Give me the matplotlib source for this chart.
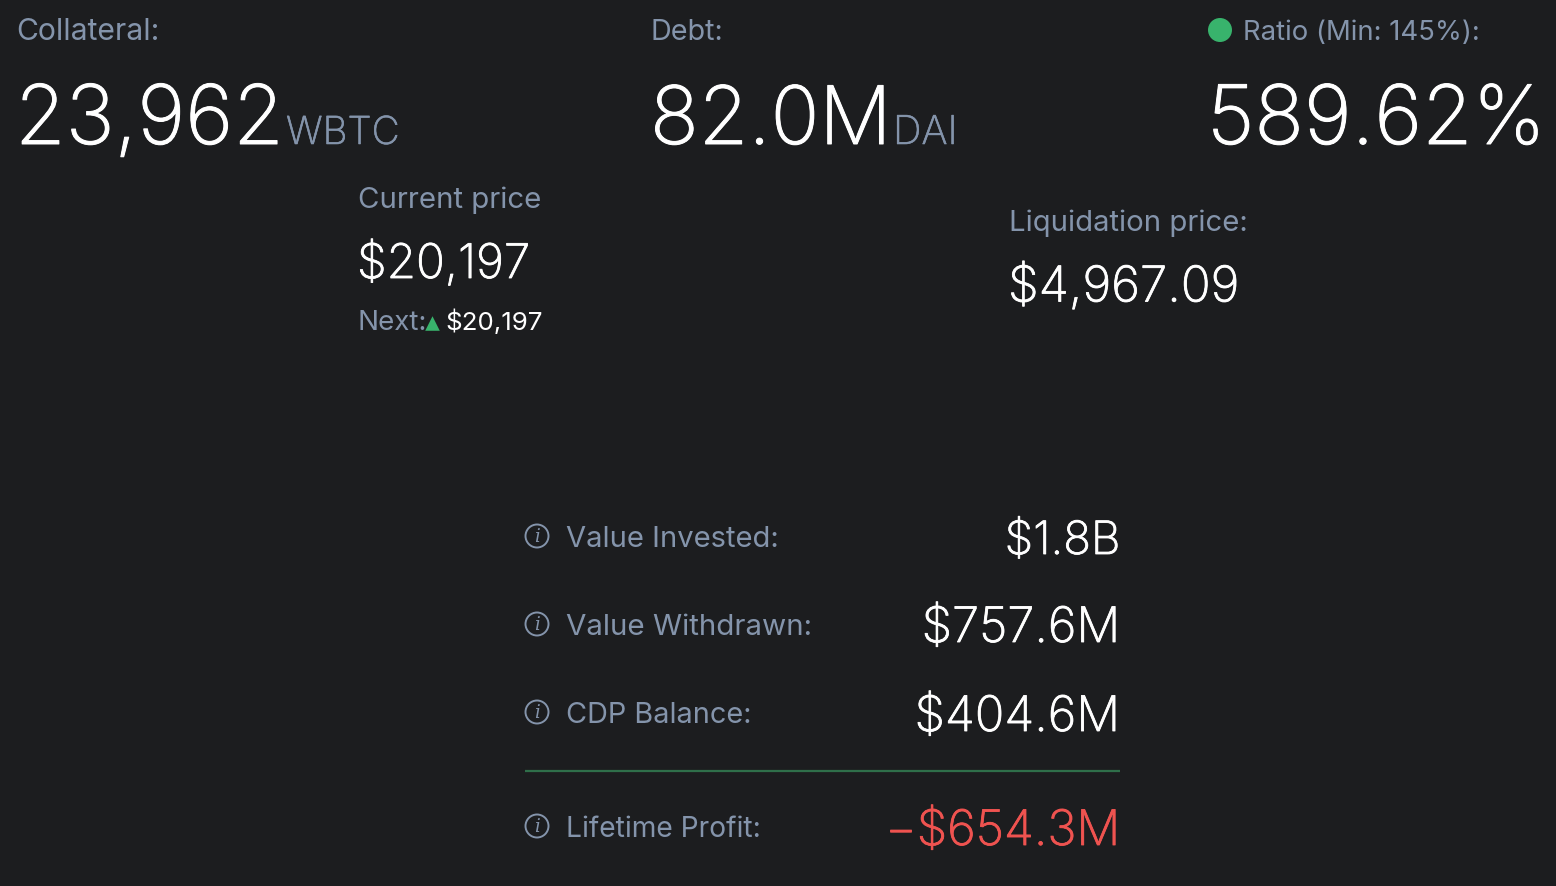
"""Vault summary panel: collateral, debt, ratio, prices and profit rows."""

import matplotlib
matplotlib.use("Agg")
import matplotlib.pyplot as plt
import matplotlib.patheffects as pe
from matplotlib.patches import Circle

BG = "#1c1d1f"
MUTED = "#8494ab"
WHITE = "#ffffff"
GREEN = "#38b36c"
RED = "#ef5350"
FONT = "Inter"

# Header block
header_labels = ["Collateral:", "Debt:", "Ratio (Min: 145%):"]
header_values = ["23,962", "82.0M", "589.62%"]
header_units = ["WBTC", "DAI", ""]

# Price block
price_labels = ["Current price", "Liquidation price:"]
price_values = ["$20,197", "$4,967.09"]
next_label = "Next:"
next_value = "$20,197"

# Summary rows
row_labels = ["Value Invested:", "Value Withdrawn:", "CDP Balance:", "Lifetime Profit:"]
row_values = ["$1.8B", "$757.6M", "$404.6M", "\u2212$654.3M"]
row_colors = [WHITE, WHITE, WHITE, RED]

fig = plt.figure(figsize=(15.56, 8.87), dpi=100, facecolor=BG)
ax = fig.add_axes([0, 0, 1, 1])
ax.set_xlim(0, 1556)
ax.set_ylim(887, 0)
ax.axis("off")


def put(x, y, s, size, color, ha="left", weight="normal", thicken=0):
    t = ax.text(x, y, s, fontsize=size, color=color, ha=ha, va="baseline",
                family=[FONT, "DejaVu Sans"], fontweight=weight)
    # light face comes out thinner than the reference, so fatten it a bit
    if thicken:
        t.set_path_effects([pe.withStroke(linewidth=thicken, foreground=color)])
    return t


# Header
header_x = [16, 651, 1243]
header_sizes = [21.7, 20.7, 19.8]
value_x = [15, 650, 1207]
value_sizes = [59.2, 58, 59]
unit_x = [286, 893, 0]
unit_sizes = [27.8, 28.6, 28]
for i in range(3):
    put(header_x[i], 39.5, header_labels[i], header_sizes[i], MUTED)
    put(value_x[i], 145, header_values[i], value_sizes[i], WHITE, weight="light", thicken=0.7)
    if header_units[i]:
        put(unit_x[i], 145, header_units[i], unit_sizes[i], MUTED, weight="light", thicken=0.4)
ax.add_patch(Circle((1220, 31), 12, color=GREEN, lw=0))

# Prices
put(358, 208, price_labels[0], 21.2, MUTED)
put(357, 279, price_values[0], 34.3, WHITE, weight="light", thicken=0.6)
put(358, 330, next_label, 20, MUTED)
ax.scatter([432.5], [323.5], marker="^", s=110, color=GREEN, linewidths=0)
put(445.5, 330, next_value, 18.7, WHITE)
put(1009, 231, price_labels[1], 21.1, MUTED)
put(1008, 302.5, price_values[1], 35.5, WHITE, weight="light", thicken=0.6)

# Summary rows
row_label_y = [547, 635, 723, 837]
row_value_y = [555, 643, 732, 846]
row_label_sizes = [21, 21.3, 20.8, 20.3]
row_value_sizes = [33, 35.2, 35.2, 35.2]
for i in range(4):
    cy = row_label_y[i] - 10
    ax.add_patch(Circle((537, cy), 11.5, fill=False, ec=MUTED, lw=1.4))
    ax.text(537, cy, "i", fontsize=13, color=MUTED, ha="center", va="center",
            family="DejaVu Serif", style="italic")
    put(566, row_label_y[i] + 0.5, row_labels[i], row_label_sizes[i], MUTED)
    put(1120.5, row_value_y[i], row_values[i], row_value_sizes[i], row_colors[i],
        ha="right", weight="light", thicken=0.6)

ax.plot([525, 1120], [772, 772], color="#2f6f4a", lw=1.6, solid_capstyle="butt")

fig.savefig("out.png", dpi=100, facecolor=BG)
